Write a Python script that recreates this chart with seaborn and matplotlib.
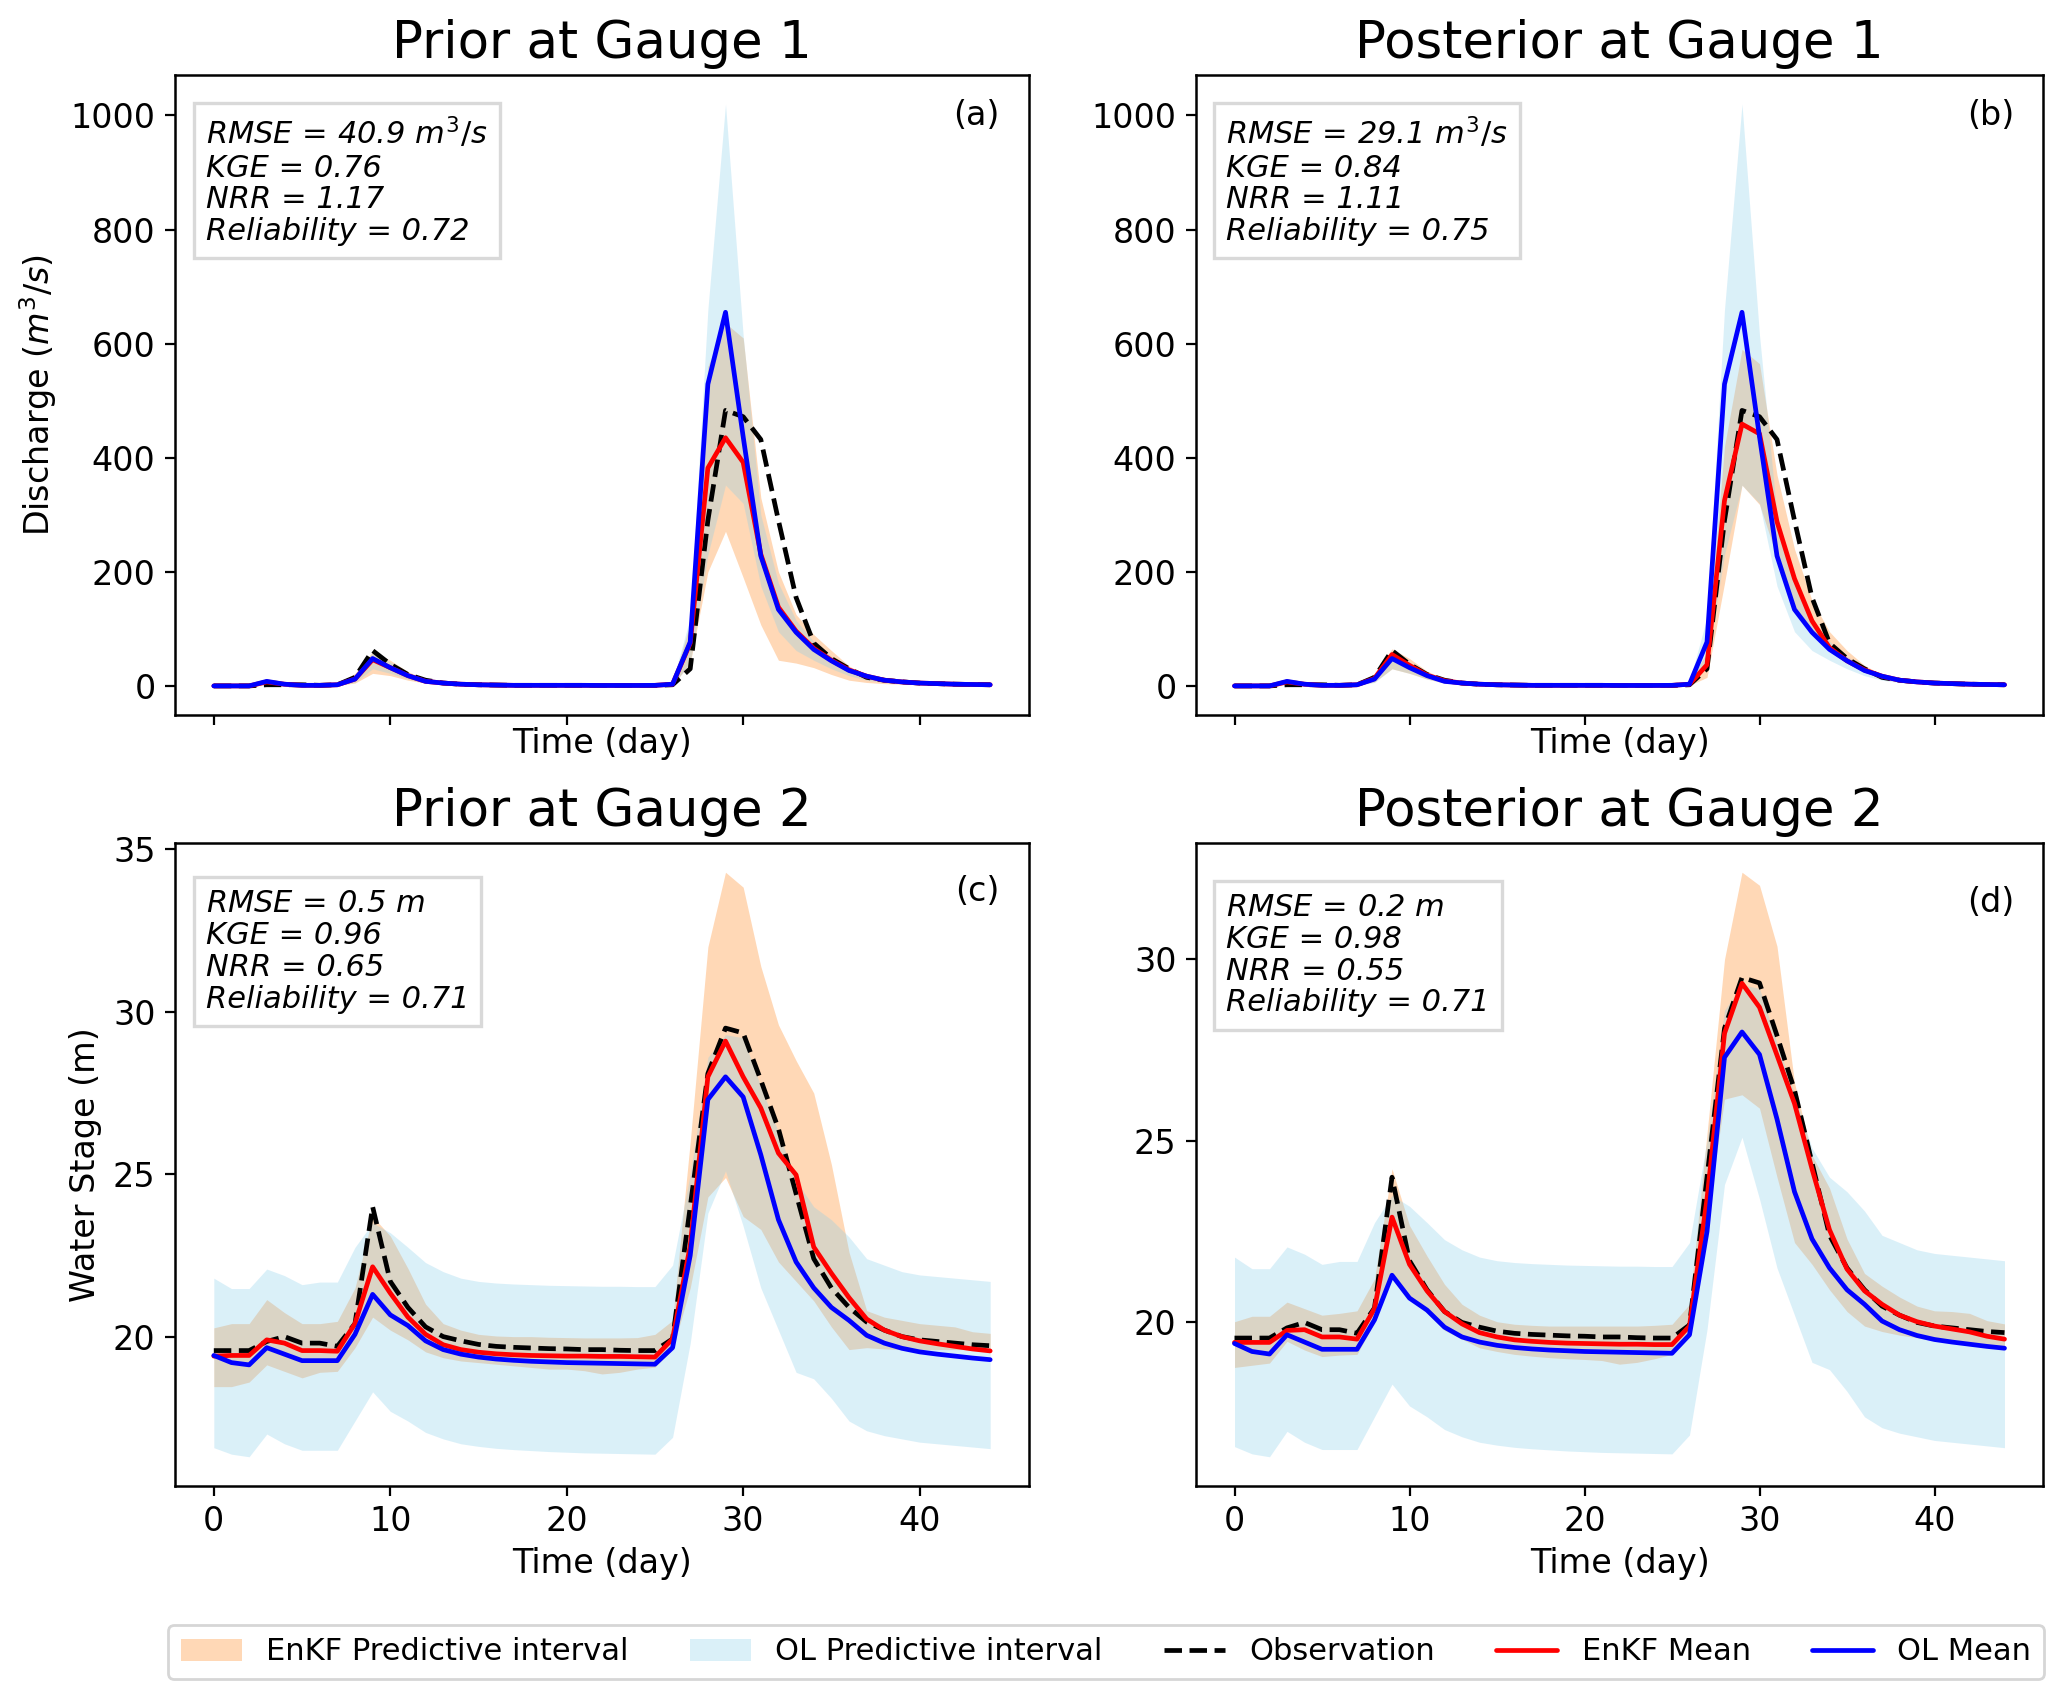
import numpy as np
import matplotlib
matplotlib.use("Agg")
import matplotlib.pyplot as plt
import seaborn as sns
from matplotlib.patches import Patch
from matplotlib.lines import Line2D
from matplotlib.ticker import MultipleLocator

# ---------------- data ----------------
days = list(range(45))

# Gauge 1 discharge (m3/s)
obs_q = [0, 0, 0, 2, 2, 2, 1, 2, 15, 62, 38, 20, 10, 5, 3, 2, 1.5, 1, 1, 1, 1, 1, 0.8, 0.8, 0.8, 0.8,
         2, 30, 290, 483, 472, 432, 290, 155, 75, 48, 30, 15, 10, 7, 5, 4, 3, 2.5, 2]
ol_q_mean = [0, 0, 0, 8, 3, 1, 1, 2, 12, 48, 32, 18, 8, 5, 3, 2, 1.5, 1, 1, 1, 1, 1, 0.8, 0.8, 0.8, 1,
             3, 77, 529, 655, 437, 228, 134, 94, 64, 44, 27, 17, 10, 7, 5, 4, 3, 2.5, 2]
ol_q_lo = [0, 0, 0, 3, 1, 0, 0, 1, 6, 30, 22, 12, 5, 3, 2, 1, 1, 0.5, 0.5, 0.5, 0.5, 0.5, 0.5, 0.5, 0.5, 0.5,
           1, 40, 230, 352, 320, 175, 95, 62, 45, 30, 18, 10, 6, 4, 3, 2, 2, 1.5, 1]
ol_q_hi = [1, 1, 1, 12, 5, 3, 3, 4, 20, 58, 42, 24, 12, 7, 5, 3, 2.5, 2, 2, 2, 2, 2, 1.5, 1.5, 1.5, 2,
           8, 120, 660, 1020, 615, 300, 180, 115, 78, 52, 33, 20, 12, 9, 7, 5, 4, 3, 3]
enkf_q_prior_mean = [0, 0, 0, 7, 3, 1, 1, 2, 12, 46, 32, 18, 8, 5, 3, 2, 1.5, 1, 1, 1, 1, 1, 0.8, 0.8, 0.8, 1,
                     3, 75, 382, 435, 392, 231, 138, 96, 66, 45, 28, 17, 10, 7, 5, 4, 3, 2.5, 2]
enkf_q_prior_lo = [0, 0, 0, 3, 1, 0, 0, 1, 5, 22, 18, 10, 5, 3, 2, 1, 1, 0.5, 0.5, 0.5, 0.5, 0.5, 0.5, 0.5, 0.5, 0.5,
                   1, 40, 200, 271, 190, 107, 45, 40, 32, 20, 10, 6, 4, 3, 2, 2, 1.5, 1, 1]
enkf_q_prior_hi = [1, 1, 1, 10, 5, 3, 3, 4, 22, 60, 45, 25, 12, 7, 5, 3, 2.5, 2, 2, 2, 2, 2, 1.5, 1.5, 1.5, 2,
                   6, 110, 560, 636, 610, 330, 200, 125, 90, 62, 35, 18, 12, 9, 7, 5, 4, 3, 3]
enkf_q_post_mean = [0, 0, 0, 7, 3, 1, 1, 2, 13, 55, 36, 19, 9, 5, 3, 2, 1.5, 1, 1, 1, 1, 1, 0.8, 0.8, 0.8, 1,
                    3, 37, 325, 459, 442, 288, 188, 114, 67, 44, 28, 17, 10, 7, 5, 4, 3, 2.5, 2]
enkf_q_post_lo = [0, 0, 0, 3, 1, 0, 0, 1, 7, 30, 22, 12, 5, 3, 2, 1, 1, 0.5, 0.5, 0.5, 0.5, 0.5, 0.5, 0.5, 0.5, 0.5,
                  1, 15, 180, 352, 318, 225, 140, 90, 60, 40, 25, 14, 8, 5, 4, 3, 2, 1.5, 1]
enkf_q_post_hi = [1, 1, 1, 10, 5, 3, 3, 4, 22, 65, 48, 26, 12, 7, 5, 3, 2.5, 2, 2, 2, 2, 2, 1.5, 1.5, 1.5, 2,
                  5, 60, 420, 590, 565, 370, 240, 150, 95, 62, 36, 20, 12, 9, 7, 5, 4, 3, 3]

# Gauge 2 water stage (m)
obs_h = [19.57, 19.57, 19.57, 19.85, 20.0, 19.8, 19.8, 19.7, 20.4, 24.0, 21.7, 20.9, 20.3, 20.0, 19.87,
         19.76, 19.7, 19.67, 19.65, 19.63, 19.62, 19.6, 19.6, 19.58, 19.57, 19.57, 19.93, 24.0, 28.1, 29.5,
         29.35, 27.9, 26.4, 24.4, 22.4, 21.5, 20.9, 20.45, 20.2, 20.0, 19.9, 19.85, 19.8, 19.75, 19.72]
ol_h_mean = [19.42, 19.2, 19.13, 19.66, 19.46, 19.26, 19.26, 19.26, 20.07, 21.3, 20.67, 20.34, 19.87, 19.6,
             19.46, 19.37, 19.31, 19.27, 19.24, 19.22, 19.2, 19.19, 19.18, 19.17, 19.16, 19.15, 19.66, 22.5,
             27.3, 28.0, 27.38, 25.6, 23.6, 22.3, 21.5, 20.9, 20.5, 20.04, 19.8, 19.64, 19.53, 19.46, 19.4,
             19.34, 19.29]
ol_h_lo = [16.58, 16.38, 16.3, 17.0, 16.7, 16.5, 16.5, 16.5, 17.4, 18.3, 17.7, 17.4, 17.05, 16.85, 16.7,
           16.62, 16.56, 16.52, 16.49, 16.46, 16.44, 16.42, 16.41, 16.4, 16.39, 16.38, 16.9, 19.8, 23.8, 25.1,
           23.4, 21.5, 20.2, 18.9, 18.7, 18.1, 17.4, 17.1, 16.95, 16.85, 16.75, 16.7, 16.65, 16.6, 16.55]
ol_h_hi = [21.8, 21.48, 21.48, 22.08, 21.88, 21.6, 21.68, 21.68, 22.75, 23.5, 23.2, 22.75, 22.28, 22.0, 21.8,
           21.7, 21.65, 21.62, 21.6, 21.58, 21.57, 21.56, 21.55, 21.55, 21.54, 21.54, 22.2, 25.0, 28.6, 29.3,
           29.2, 27.7, 26.3, 24.8, 24.0, 23.6, 23.07, 22.4, 22.2, 22.0, 21.9, 21.85, 21.8, 21.75, 21.7]
enkf_h_prior_mean = [19.4, 19.42, 19.42, 19.9, 19.8, 19.57, 19.57, 19.55, 20.4, 22.15, 21.34, 20.6, 20.07,
                     19.75, 19.6, 19.52, 19.47, 19.44, 19.42, 19.41, 19.4, 19.4, 19.39, 19.39, 19.38, 19.37,
                     19.93, 22.8, 28.0, 29.1, 28.0, 27.04, 25.65, 24.98, 22.76, 21.95, 21.2, 20.54, 20.2,
                     20.0, 19.87, 19.78, 19.7, 19.62, 19.56]
enkf_h_prior_lo = [18.46, 18.46, 18.6, 19.13, 18.93, 18.73, 18.9, 18.93, 19.66, 20.6, 20.2, 19.9, 19.53,
                   19.35, 19.25, 19.2, 19.15, 19.1, 19.05, 19.0, 19.0, 18.95, 18.85, 18.9, 19.0, 19.06, 19.6,
                   21.5, 24.3, 24.9, 23.7, 23.3, 22.3, 21.7, 21.1, 20.3, 19.6, 19.66, 19.62, 19.6, 19.6, 19.6,
                   19.6, 19.6, 19.6]
enkf_h_prior_hi = [20.27, 20.4, 20.4, 21.14, 20.74, 20.4, 20.4, 20.47, 21.5, 23.7, 23.1, 22.1, 21.0, 20.4,
                   20.2, 20.07, 20.02, 20.0, 20.0, 19.98, 19.97, 19.96, 19.96, 19.96, 19.97, 20.07, 20.5, 26.0,
                   32.0, 34.3, 33.84, 31.4, 29.6, 28.5, 27.5, 25.3, 22.6, 20.8, 20.6, 20.5, 20.4, 20.35, 20.3,
                   20.15, 20.1]
enkf_h_post_mean = [19.45, 19.45, 19.45, 19.78, 19.8, 19.6, 19.6, 19.54, 20.38, 22.9, 21.6, 20.87, 20.3,
                    19.96, 19.72, 19.6, 19.52, 19.48, 19.45, 19.43, 19.42, 19.41, 19.4, 19.4, 19.39, 19.39,
                    19.9, 23.4, 27.96, 29.34, 28.68, 27.36, 26.03, 24.23, 22.55, 21.47, 20.87, 20.5, 20.2,
                    20.02, 19.9, 19.82, 19.74, 19.62, 19.54]
enkf_h_post_lo = [18.76, 18.82, 18.88, 19.48, 19.24, 19.06, 19.1, 19.12, 20.0, 21.35, 20.68, 20.26, 19.78,
                  19.54, 19.3, 19.2, 19.12, 19.07, 19.03, 19.0, 18.98, 18.95, 18.85, 18.9, 19.0, 19.12, 19.7,
                  22.8, 26.15, 26.27, 25.9, 24.0, 22.2, 21.6, 20.9, 20.3, 19.9, 19.75, 19.65, 19.58, 19.5,
                  19.45, 19.4, 19.35, 19.3]
enkf_h_post_hi = [20.02, 20.17, 20.17, 20.56, 20.38, 20.2, 20.25, 20.32, 21.2, 24.23, 22.67, 21.83, 21.05,
                  20.5, 20.2, 20.02, 19.95, 19.92, 19.9, 19.9, 19.9, 19.9, 19.9, 19.9, 19.92, 19.95, 20.5,
                  25.2, 30.0, 32.4, 32.04, 30.36, 26.6, 24.6, 23.7, 22.3, 21.35, 21.0, 20.7, 20.45, 20.32,
                  20.3, 20.25, 20.05, 19.96]

titles = ["Prior at Gauge 1", "Posterior at Gauge 1", "Prior at Gauge 2", "Posterior at Gauge 2"]
panel_tags = ["(a)", "(b)", "(c)", "(d)"]
stats_text = [
    "RMSE = 40.9 $m^3/s$\nKGE = 0.76\nNRR = 1.17\nReliability = 0.72",
    "RMSE = 29.1 $m^3/s$\nKGE = 0.84\nNRR = 1.11\nReliability = 0.75",
    "RMSE = 0.5 $m$\nKGE = 0.96\nNRR = 0.65\nReliability = 0.71",
    "RMSE = 0.2 $m$\nKGE = 0.98\nNRR = 0.55\nReliability = 0.71",
]
legend_labels = ["EnKF Predictive interval", "OL Predictive interval", "Observation", "EnKF Mean", "OL Mean"]

# ---------------- style ----------------
sns.set_style("ticks")
plt.rcParams["font.family"] = ["DejaVu Sans"]
plt.rcParams.update({
    "axes.edgecolor": "black",
    "axes.linewidth": 0.9,
    "xtick.color": "black",
    "ytick.color": "black",
    "text.color": "black",
    "axes.labelcolor": "black",
    "xtick.labelsize": 12,
    "ytick.labelsize": 12,
    "mathtext.default": "it",
})

C_ENKF_BAND = "#ff7f0e"
C_OL_BAND = "skyblue"

fig = plt.figure(figsize=(2067 / 200, 1698 / 200), dpi=200)
W, H = 2067.0, 1698.0


def axes_at(l, r, t, b):
    return fig.add_axes([l / W, 1 - b / H, (r - l) / W, (b - t) / H])


ax_a = axes_at(175, 1029, 75, 715)
ax_b = axes_at(1196, 2043, 75, 715)
ax_c = axes_at(175, 1029, 843, 1486)
ax_d = axes_at(1196, 2043, 843, 1486)
axes = [ax_a, ax_b, ax_c, ax_d]

panels = [
    (obs_q, ol_q_mean, ol_q_lo, ol_q_hi, enkf_q_prior_mean, enkf_q_prior_lo, enkf_q_prior_hi),
    (obs_q, ol_q_mean, ol_q_lo, ol_q_hi, enkf_q_post_mean, enkf_q_post_lo, enkf_q_post_hi),
    (obs_h, ol_h_mean, ol_h_lo, ol_h_hi, enkf_h_prior_mean, enkf_h_prior_lo, enkf_h_prior_hi),
    (obs_h, ol_h_mean, ol_h_lo, ol_h_hi, enkf_h_post_mean, enkf_h_post_lo, enkf_h_post_hi),
]

box_top = [0.937, 0.937, 0.928, 0.922]
tag_y = [0.936, 0.936, 0.924, 0.908]

for i, (ax, (obs, olm, oll, olh, em, el, eh)) in enumerate(zip(axes, panels)):
    ax.fill_between(days, el, eh, color=C_ENKF_BAND, alpha=0.3, lw=0)
    ax.fill_between(days, oll, olh, color=C_OL_BAND, alpha=0.3, lw=0)
    sns.lineplot(x=days, y=obs, ax=ax, color="black", linestyle="--", lw=1.7)
    sns.lineplot(x=days, y=em, ax=ax, color="red", lw=1.7)
    sns.lineplot(x=days, y=olm, ax=ax, color="blue", lw=1.7)
    ax.set_title(titles[i], fontsize=18.5, pad=6)
    ax.set_xticks([0, 10, 20, 30, 40])
    for s in ax.spines.values():
        s.set_visible(True)
    ax.text(0.036, box_top[i], stats_text[i], transform=ax.transAxes, ha="left", va="top",
            fontsize=11, style="italic", linespacing=1.12,
            bbox=dict(boxstyle="square,pad=0.4", fc="white", ec="#d9d9d9", lw=1.2))
    ax.text(0.966, tag_y[i], panel_tags[i], transform=ax.transAxes, ha="right", va="center", fontsize=12)

ax_a.tick_params(axis="x", labelbottom=False)
ax_b.tick_params(axis="x", labelbottom=False)
ax_a.set_xlabel("Time (day)", fontsize=12, labelpad=1)
ax_b.set_xlabel("Time (day)", fontsize=12, labelpad=1)
ax_c.set_xlabel("Time (day)", fontsize=12, labelpad=3)
ax_d.set_xlabel("Time (day)", fontsize=12, labelpad=3)
ax_a.set_ylabel("Discharge ($m^3/s$)", fontsize=12)
ax_c.set_ylabel("Water Stage (m)", fontsize=12)
for ax in (ax_a, ax_b):
    ax.yaxis.set_major_locator(MultipleLocator(200))
for ax in (ax_c, ax_d):
    ax.yaxis.set_major_locator(MultipleLocator(5))

handles = [
    Patch(facecolor=C_ENKF_BAND, alpha=0.3, edgecolor="none"),
    Patch(facecolor=C_OL_BAND, alpha=0.3, edgecolor="none"),
    Line2D([], [], color="black", linestyle="--", lw=1.7),
    Line2D([], [], color="red", lw=1.7),
    Line2D([], [], color="blue", lw=1.7),
]
fig.legend(handles, legend_labels, loc="center", bbox_to_anchor=(1106 / W, 1 - 1652 / H), ncol=5,
           fontsize=11, frameon=True, fancybox=True, edgecolor="#cccccc", columnspacing=2.0)

fig.savefig("out.png", dpi=200)
